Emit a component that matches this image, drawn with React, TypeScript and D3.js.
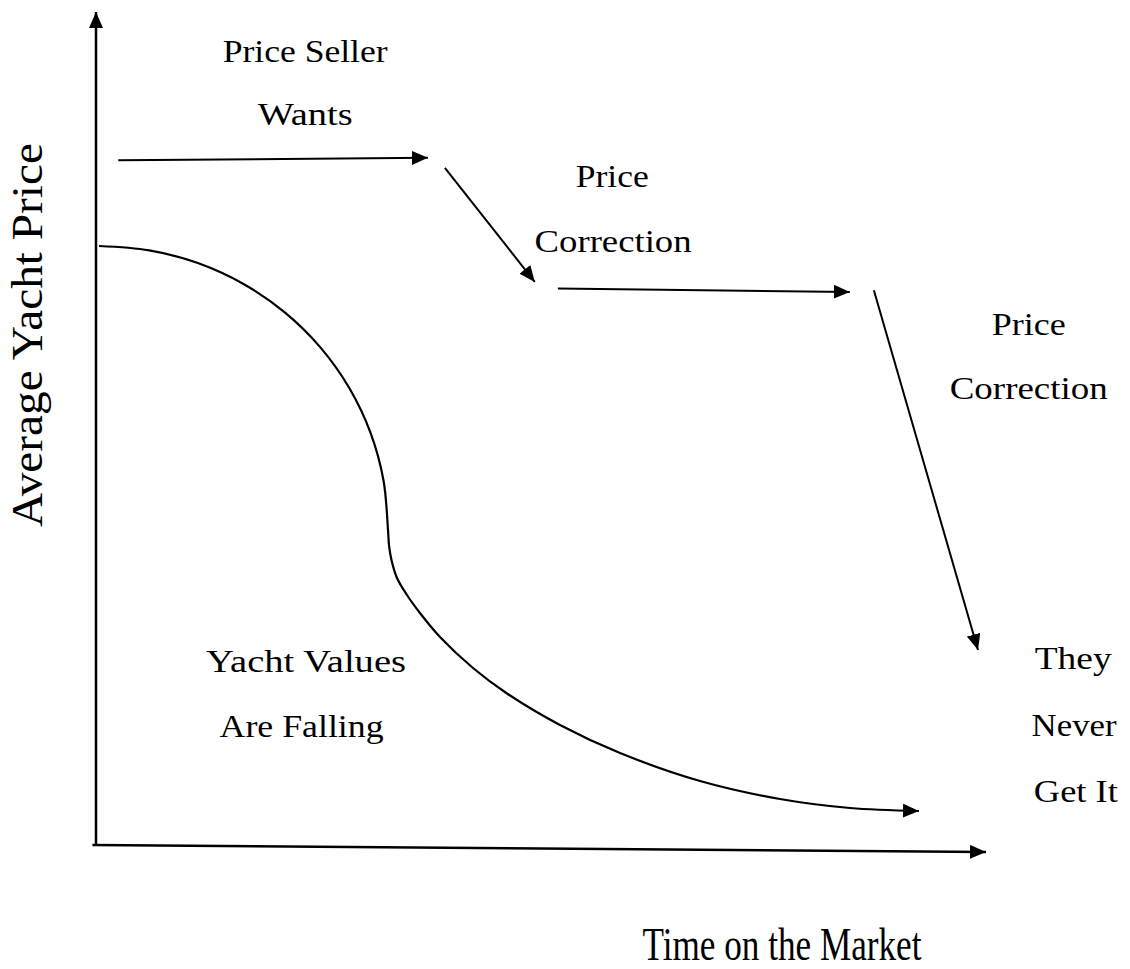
import React from "react";
import * as d3 from "d3";

const WIDTH = 1130;
const HEIGHT = 969;
const FONT = "Liberation Serif";

// data units: time 0..100 on x, price 0..100 on y
const xAxisLine = [
  { t: -0.4, p: 0 },
  { t: 100, p: -0.84 }
];
const yAxisLine = [
  { t: 0, p: 0 },
  { t: 0, p: 100 }
];

// asking price steps (start -> end)
const priceSteps = [
  [{ t: 2.5, p: 82.2 }, { t: 37.3, p: 82.5 }],
  [{ t: 39.2, p: 81.3 }, { t: 49.3, p: 67.6 }],
  [{ t: 51.9, p: 66.8 }, { t: 84.7, p: 66.4 }],
  [{ t: 87.4, p: 66.6 }, { t: 99.1, p: 23.4 }]
];

// falling value curve
const valueT = [
  0.34, 5.98, 11.44, 16.57, 21.21, 25.21, 28.46, 30.85, 32.31, 32.81,
  32.92, 33.2, 33.82, 34.94, 36.4, 38.65, 42.36, 46.18, 52.13, 58.88,
  67.87, 76.85, 84.72, 92.47
];
const valueP = [
  71.91, 71.39, 69.86, 67.35, 63.94, 59.74, 54.86, 49.47, 43.73, 37.82,
  36.01, 34.21, 32.05, 30.01, 27.85, 24.97, 21.25, 18.19, 14.41, 11.04,
  7.68, 5.52, 4.44, 4.08
];

const noteText = ["Price Seller", "Wants", "Price", "Correction", "Price", "Correction", "They", "Never", "Get It", "Yacht Values", "Are Falling"];
const noteT = [23.5, 23.5, 58.0, 58.1, 104.8, 104.8, 109.8, 109.9, 110.1, 23.6, 23.1];
const noteP = [94.0, 86.4, 79.0, 71.2, 61.2, 53.5, 21.1, 13.1, 5.2, 20.8, 13.0];
const noteWidth = [165, 95, 73, 157, 74, 158, 77, 85, 84, 200, 164];

const xTitle = "Time on the Market";
const yTitle = "Average Yacht Price";

export default function App() {
  const x = d3.scaleLinear().domain([0, 100]).range([96, 986]);
  const y = d3.scaleLinear().domain([0, 100]).range([845, 12]);

  const line = d3
    .line<{ t: number; p: number }>()
    .x(d => x(d.t))
    .y(d => y(d.p));

  const curve = d3
    .line<number>()
    .x((d, i) => x(valueT[i]))
    .y(d => y(d))
    .curve(d3.curveCatmullRom.alpha(0.5));

  return (
    <svg
      width={WIDTH}
      height={HEIGHT}
      style={{ position: "absolute", left: 0, top: 0, background: "#fff" }}
    >
      <defs>
        <marker
          id="head"
          viewBox="0 0 16 14"
          refX={16}
          refY={7}
          markerWidth={16}
          markerHeight={14}
          markerUnits="userSpaceOnUse"
          orient="auto"
        >
          <path d="M0,0 L16,7 L0,14 Z" fill="#000" />
        </marker>
      </defs>

      <path d={line(yAxisLine)} stroke="#000" strokeWidth={2.5} fill="none" markerEnd="url(#head)" />
      <path d={line(xAxisLine)} stroke="#000" strokeWidth={2.5} fill="none" markerEnd="url(#head)" />

      {priceSteps.map((s, i) => (
        <path key={i} d={line(s)} stroke="#000" strokeWidth={2} fill="none" markerEnd="url(#head)" />
      ))}

      <path d={curve(valueP)} stroke="#000" strokeWidth={2.2} fill="none" markerEnd="url(#head)" />

      {noteText.map((txt, i) => (
        <text
          key={i}
          x={x(noteT[i])}
          y={y(noteP[i])}
          textAnchor="middle"
          fontFamily={FONT}
          fontSize={31}
          textLength={noteWidth[i]}
          lengthAdjust="spacingAndGlyphs"
        >
          {txt}
        </text>
      ))}

      <text
        x={782}
        y={960}
        textAnchor="middle"
        fontFamily={FONT}
        fontSize={46}
        textLength={279}
        lengthAdjust="spacingAndGlyphs"
      >
        {xTitle}
      </text>
      <text
        transform="translate(42,335) rotate(-90)"
        textAnchor="middle"
        fontFamily={FONT}
        fontSize={45}
        textLength={384}
        lengthAdjust="spacingAndGlyphs"
      >
        {yTitle}
      </text>
    </svg>
  );
}
